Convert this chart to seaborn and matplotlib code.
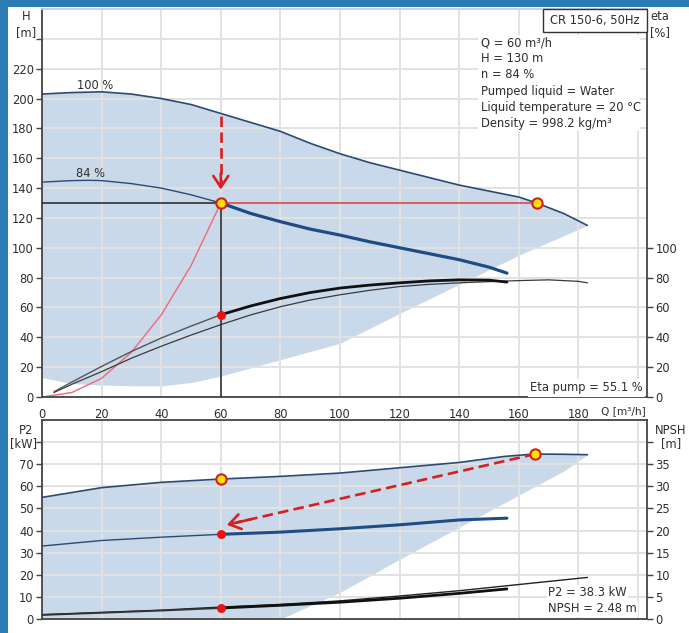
import matplotlib
matplotlib.use("Agg")
import matplotlib.pyplot as plt
import seaborn as sns
import numpy as np
from matplotlib.patches import Rectangle

# ---------------- data ----------------
q_h100 = [0, 10, 20, 30, 40, 50, 60, 70, 80, 90, 100, 110, 120, 130, 140, 150, 160, 166, 175, 183]
h_100 = [203, 204, 204.5, 203, 200, 196, 190, 184, 178, 170, 163, 157, 152, 147, 142, 138, 134, 130, 123, 115]

q_h84 = [0, 10, 16, 20, 30, 40, 50, 60, 70, 80, 90, 100, 110, 120, 130, 140, 150, 156]
h_84 = [144, 145, 145.2, 145, 143, 140, 135.5, 130, 123, 117.5, 112.5, 108.5, 104, 100, 96, 92, 87, 83]

q_env_lo = [0, 5, 10, 20, 30, 45, 60, 80, 100, 120, 140, 160, 183]
h_env_lo = [13, 11, 9, 8, 7.5, 7.5, 14, 25, 36, 56, 75.5, 95, 115]

q_sys = [0, 10, 20, 30, 40, 50, 60]
h_sys = [0, 3, 12.5, 30, 55, 88, 130]

q_eta84 = [4, 10, 20, 30, 40, 50, 60, 70, 80, 90, 100, 110, 120, 130, 140, 150, 156]
eta84 = [3.5, 10, 20.5, 30.5, 39.5, 47.5, 55.1, 61, 66, 70, 73, 75, 76.5, 77.8, 78.5, 78.3, 77]
q_eta100 = [4, 10, 20, 30, 40, 50, 60, 70, 80, 90, 100, 110, 120, 130, 140, 150, 160, 170, 180, 183]
eta100 = [3, 8.5, 17, 26, 34, 41.5, 48.5, 55, 60.5, 65, 68.5, 71.5, 74, 75.5, 76.5, 77.3, 78, 78.5, 77.5, 76.5]

q_p100 = [0, 20, 40, 60, 80, 100, 120, 140, 155, 165, 175, 183]
p2_100 = [55, 59.4, 61.8, 63.3, 64.5, 66, 68.4, 70.8, 73.5, 74.6, 74.5, 74.3]
q_p84 = [0, 20, 40, 60, 80, 100, 120, 140, 156]
p2_84 = [33, 35.5, 37, 38.3, 39.3, 40.8, 42.6, 44.8, 45.6]

q_p_lo = [0, 85, 100, 120, 140, 160, 180, 183]
p2_lo = [0, 0, 12, 27, 41.5, 56, 70.5, 74.3]

q_n84 = [0, 20, 40, 60, 80, 100, 120, 140, 156]
npsh84 = [0.9, 1.4, 1.9, 2.48, 3.1, 3.8, 4.7, 5.8, 6.8]
q_n100 = [0, 20, 40, 60, 80, 100, 120, 140, 160, 183]
npsh100 = [1.0, 1.5, 2.0, 2.7, 3.3, 4.1, 5.2, 6.4, 7.8, 9.4]

duty_q, duty_h, duty_eta, duty_p2, duty_npsh = 60, 130, 55.1, 38.3, 2.48
full_q, full_h = 166, 130
p2_full_at_duty = 63.3
p2_full_q, p2_full_v = 165.5, 74.6

x_ticks = [0, 20, 40, 60, 80, 100, 120, 140, 160, 180, 200]
x_labels = ['0', '20', '40', '60', '80', '100', '120', '140', '160', '180', '']
h_ticks = [0, 20, 40, 60, 80, 100, 120, 140, 160, 180, 200, 220, 240]
h_labels = ['0', '20', '40', '60', '80', '100', '120', '140', '160', '180', '200', '220', '']
eta_ticks = [0, 20, 40, 60, 80, 100]
p2_ticks = [0, 10, 20, 30, 40, 50, 60, 70, 80]
p2_labels = ['0', '10', '20', '30', '40', '50', '60', '70', '']
npsh_ticks = [0, 5, 10, 15, 20, 25, 30, 35, 40]
npsh_labels = ['0', '5', '10', '15', '20', '25', '30', '35', '']

info_lines = ["Q = 60 m³/h", "H = 130 m", "n = 84 %", "Pumped liquid = Water",
              "Liquid temperature = 20 °C", "Density = 998.2 kg/m³"]

# ---------------- style ----------------
W, H = 689, 633
FRAME = '#2d7db5'
FILL = '#c9d9ea'
NAVY = '#1f4c85'
NAVY2 = '#2b4a72'
RED = '#d62020'
GRID = '#e2e2e2'
SPINE = '#444444'
TXT = '#2e2e2e'

sns.set_style("white")
plt.rcParams['font.family'] = ['DejaVu Sans']
FS = 8.3

fig = plt.figure(figsize=(W / 100, H / 100), dpi=100, facecolor=FRAME)
fig.patches.append(Rectangle((8 / W, 0), 1 - 8 / W, 1 - 7 / H, transform=fig.transFigure,
                             facecolor='white', edgecolor='none', zorder=-5))


def fx(px):
    return px / W


def fy(py):
    return 1 - py / H


ax1 = fig.add_axes([fx(42), fy(397), fx(647) - fx(42), fy(9) - fy(397)])
ax2 = fig.add_axes([fx(42), fy(619), fx(647) - fx(42), fy(420) - fy(619)])


def style_axes(ax):
    ax.set_axisbelow('line')
    ax.grid(True, color=GRID, lw=1.4)
    for s in ax.spines.values():
        s.set_color(SPINE)
        s.set_linewidth(1.3)
    ax.tick_params(axis='both', labelsize=FS, length=4, width=1, color=SPINE,
                   labelcolor=TXT, pad=2)


# ---------------- top panel ----------------
style_axes(ax1)
ax1.spines['top'].set_color('#cccccc')
ax1.set_xlim(0, 203)
ax1.set_ylim(0, 260)
ax1.set_xticks(x_ticks)
ax1.set_xticklabels(x_labels)
ax1.set_yticks(h_ticks)
ax1.set_yticklabels(h_labels)
ax1.tick_params(axis='x', pad=4)

# envelope
env_x = np.array(q_h100, dtype=float)
ax1.fill_between(env_x, np.interp(env_x, q_env_lo, h_env_lo), h_100,
                 color=FILL, lw=0, zorder=1)

sns.lineplot(x=q_h100, y=h_100, ax=ax1, color=NAVY2, lw=1.2, sort=False, estimator=None)
q84 = np.array(q_h84, dtype=float)
h84 = np.array(h_84, dtype=float)
m_lo = q84 <= duty_q
m_hi = q84 >= duty_q
sns.lineplot(x=q84[m_lo], y=h84[m_lo], ax=ax1, color=NAVY2, lw=1.0, sort=False, estimator=None)
sns.lineplot(x=q84[m_hi], y=h84[m_hi], ax=ax1, color=NAVY, lw=2.3, sort=False, estimator=None)

# system curve
sns.lineplot(x=q_sys, y=h_sys, ax=ax1, color='#f06878', lw=1.0, sort=False, estimator=None)

# duty lines
ax1.plot([0, duty_q], [duty_h, duty_h], color='#222222', lw=1.1, zorder=3)
ax1.plot([duty_q, duty_q], [0, duty_h], color='#222222', lw=1.1, zorder=3)
ax1.plot([duty_q, full_q], [duty_h, full_h], color='#e03a3a', lw=1.1, zorder=3)

ax1.text(17.7, 209, "100 %", fontsize=FS, color=TXT, ha='center', va='center')
ax1.text(16.4, 150, "84 %", fontsize=FS, color=TXT, ha='center', va='center')

# red dashed arrow
ax1.plot([duty_q, duty_q], [188, 144], color=RED, lw=1.9, ls=(0, (4, 2)), zorder=4)
ax1.annotate('', xy=(duty_q, 139), xytext=(duty_q, 150),
             arrowprops=dict(arrowstyle='->,head_length=0.45,head_width=0.3', color=RED,
                             lw=1.9, mutation_scale=18, shrinkA=0, shrinkB=0), zorder=5)

# eta axis
ax1r = ax1.twinx()
ax1r.set_ylim(0, 260)
ax1r.set_yticks(eta_ticks)
ax1r.grid(False)
for s in ax1r.spines.values():
    s.set_visible(False)
ax1r.tick_params(axis='y', labelsize=FS, length=4, width=1, color=SPINE, labelcolor=TXT, pad=2)

qe = np.array(q_eta84, dtype=float)
e84 = np.array(eta84, dtype=float)
sns.lineplot(x=q_eta100, y=eta100, ax=ax1r, color='#3a3a3a', lw=0.9, sort=False, estimator=None)
sns.lineplot(x=qe[qe <= duty_q], y=e84[qe <= duty_q], ax=ax1r, color='#555555', lw=1.0,
             sort=False, estimator=None)
sns.lineplot(x=qe[qe >= duty_q], y=e84[qe >= duty_q], ax=ax1r, color='#111111', lw=2.0,
             sort=False, estimator=None)

# points
sns.scatterplot(x=[duty_q, full_q], y=[duty_h, full_h], ax=ax1r, s=55, color='#ffe000',
                edgecolor='#d02020', linewidth=1.5, zorder=6)
sns.scatterplot(x=[duty_q], y=[duty_eta], ax=ax1r, s=35, color='#ee1111', edgecolor='#ee1111',
                linewidth=0.5, zorder=6)

# ---------------- bottom panel ----------------
style_axes(ax2)
ax2.set_xlim(0, 203)
ax2.set_ylim(0, 90)
ax2.set_xticks(x_ticks)
ax2.set_xticklabels([''] * len(x_ticks))
ax2.tick_params(axis='x', length=0)
ax2.set_yticks(p2_ticks)
ax2.set_yticklabels(p2_labels)

envp_x = np.array(q_p100, dtype=float)
ax2.fill_between(envp_x, np.interp(envp_x, q_p_lo, p2_lo), p2_100, color=FILL, lw=0, zorder=1)

sns.lineplot(x=q_p100, y=p2_100, ax=ax2, color=NAVY2, lw=1.2, sort=False, estimator=None)
qp = np.array(q_p84, dtype=float)
pp = np.array(p2_84, dtype=float)
sns.lineplot(x=qp[qp <= duty_q], y=pp[qp <= duty_q], ax=ax2, color=NAVY2, lw=1.0,
             sort=False, estimator=None)
sns.lineplot(x=qp[qp >= duty_q], y=pp[qp >= duty_q], ax=ax2, color=NAVY, lw=2.2,
             sort=False, estimator=None)

# dashed arrow (bottom)
tip = (62, 42.6)
ax2.plot([p2_full_q, tip[0] + 3], [p2_full_v, tip[1] + 0.95], color=RED, lw=1.9,
         ls=(0, (4, 2)), zorder=4)
ax2.annotate('', xy=tip, xytext=(tip[0] + 8.3, tip[1] + 2.56),
             arrowprops=dict(arrowstyle='->,head_length=0.45,head_width=0.3', color=RED,
                             lw=1.9, mutation_scale=18, shrinkA=0, shrinkB=0), zorder=5)

ax2r = ax2.twinx()
ax2r.set_ylim(0, 45)
ax2r.set_yticks(npsh_ticks)
ax2r.set_yticklabels(npsh_labels)
ax2r.grid(False)
for s in ax2r.spines.values():
    s.set_visible(False)
ax2r.tick_params(axis='y', labelsize=FS, length=4, width=1, color=SPINE, labelcolor=TXT, pad=2)

qn = np.array(q_n84, dtype=float)
nn = np.array(npsh84, dtype=float)
sns.lineplot(x=q_n100, y=npsh100, ax=ax2r, color='#222222', lw=1.0, sort=False, estimator=None)
sns.lineplot(x=qn[qn <= duty_q], y=nn[qn <= duty_q], ax=ax2r, color='#333333', lw=1.3,
             sort=False, estimator=None)
sns.lineplot(x=qn[qn >= duty_q], y=nn[qn >= duty_q], ax=ax2r, color='#111111', lw=2.0,
             sort=False, estimator=None)

sns.scatterplot(x=[duty_q, p2_full_q], y=[p2_full_at_duty / 2, p2_full_v / 2], ax=ax2r, s=55,
                color='#ffe000', edgecolor='#d02020', linewidth=1.5, zorder=6)
sns.scatterplot(x=[duty_q, duty_q], y=[duty_p2 / 2, duty_npsh], ax=ax2r, s=35, color='#ee1111',
                edgecolor='#ee1111', linewidth=0.5, zorder=6)

# ---------------- texts ----------------
def ftext(px, py, s, **kw):
    kw.setdefault('fontsize', FS)
    kw.setdefault('color', TXT)
    return fig.text(fx(px), fy(py), s, **kw)


ftext(26, 17, "H", ha='center', va='center')
ftext(26, 33, "[m]", ha='center', va='center')
ftext(660, 17, "eta", ha='center', va='center')
ftext(660, 33, "[%]", ha='center', va='center')
ftext(26, 431, "P2", ha='center', va='center')
ftext(24, 444, "[kW]", ha='center', va='center')
ftext(671, 431, "NPSH", ha='center', va='center')
ftext(671, 444, "[m]", ha='center', va='center')
ftext(601, 411, "Q [m³/h]", ha='left', va='center', fontsize=7.6)

# product box
fig.patches.append(Rectangle((fx(543), fy(32)), fx(647) - fx(543), fy(9) - fy(32),
                             transform=fig.transFigure, facecolor='white',
                             edgecolor='#333333', lw=1.0, zorder=5))
ftext(595, 20.5, "CR 150-6, 50Hz", ha='center', va='center', zorder=6)

# info block
fig.patches.append(Rectangle((fx(478), fy(131)), fx(640) - fx(478), fy(35) - fy(131),
                             transform=fig.transFigure, facecolor='white', edgecolor='none',
                             zorder=4))
for i, line in enumerate(info_lines):
    ftext(481, 43 + 16 * i, line, ha='left', va='center', zorder=6)

ftext(643, 388, "Eta pump = 55.1 %", ha='right', va='center', zorder=6,
      bbox=dict(facecolor='white', edgecolor='none', pad=1.5))
ftext(548, 593, "P2 = 38.3 kW", ha='left', va='center', zorder=6,
      bbox=dict(facecolor='white', edgecolor='none', pad=1.0))
ftext(548, 609, "NPSH = 2.48 m", ha='left', va='center', zorder=6,
      bbox=dict(facecolor='white', edgecolor='none', pad=1.0))

fig.savefig("out.png", dpi=100, facecolor=FRAME)
